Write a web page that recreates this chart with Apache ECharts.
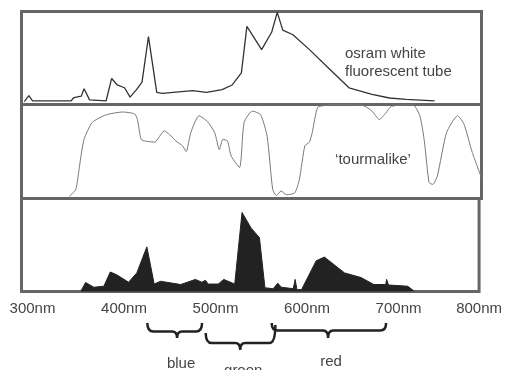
<!DOCTYPE html>
<html>
<head>
<meta charset="utf-8">
<script src="https://cdn.jsdelivr.net/npm/echarts@6/dist/echarts.min.js"></script>
<style>html,body{margin:0;padding:0;background:#fff}#c{width:505px;height:370px}</style>
</head>
<body>
<div id="c"></div>
<script>
// x tick labels
const tickLabels = ['300nm', '400nm', '500nm', '600nm', '700nm', '800nm'];

// Panel 1: osram white fluorescent tube (wavelength nm, relative intensity)
const tubeNm  = [303,308,312,354,357,365,368,374,392,398,404,412,418,425,431,438,447,453,486,501,518,529,539,545,561,572,578,584,595,613,635,656,681,700,718,749];
const tubeVal = [3,9.5,4,4,7.5,9,17,5,4,28,21,18,8,16,24,73,13,12,15,13,16,21,34,84,59,78,99,80,75,59,38,18,11,7,5.5,4];

// Panel 2: 'tourmalike' transmission
const tourNm  = [352,359,363,368,377,392,410,423,426,430,435,445,450,455,461,468,475,479,484,493,502,510,515,519,524,528,537,542,551,560,567,573,577,582,588,597,602,608,613,616,622,631,638,671,681,689,696,702,725,733,738,743,747,752,762,774,781,790,800];
const tourVal = [2.4,9.6,34,63,81,89,92,90,84,63,61,60,66,72,68,61,56,50,70,88,82,70,52,63,61,45,33,81,93,89,66,10,3,8,4,6,20,56,60,70,97,99,100,99,93,84,91,98,100,88,60,17,15,24,70,88,79,49,22];

// Panel 3: combined result (filled)
const filtNm  = [365,370,379,390,397,404,417,426,437,445,452,474,490,497,501,504,515,521,533,541,551,560,566,575,580,584,597,599,601,606,622,631,653,671,685,698,699,701,722,729];
const filtVal = [0.5,9.7,4.6,5.7,21,18,10,20,48,8,11,7.5,13,10,12,8,8,13,8,85,68,58,4,3,9,4.6,3,13,2,2,33,37,20,15,7.5,7.5,13,7,5.7,0.5];

// colour band braces (nm)
const braceNames = ['blue', 'green', 'red'];
const braceStart = [437.5, 501.3, 573.4];
const braceEnd   = [497.3, 577.4, 698.4];
const braceTip   = [470, 539, 635];

const FONT = '"Liberation Sans", Arial, sans-serif';
const zip = (a, b) => a.map((v, i) => [v, b[i]]);

const chart = echarts.init(document.getElementById('c'), null, {renderer: 'canvas'});

const gridBase = {left: 21.5, width: 460, show: true, borderColor: '#666', borderWidth: 3, backgroundColor: 'transparent'};
const grids = [
  Object.assign({top: 11.5, height: 93}, gridBase),
  Object.assign({top: 104.5, height: 94}, gridBase),
  Object.assign({top: 198.5, height: 93}, gridBase)
];

const xAxes = [0, 1, 2].map(i => ({
  type: 'value', gridIndex: i, min: 300, max: 800, interval: 100,
  axisLine: {show: false}, axisTick: {show: false}, splitLine: {show: false},
  axisLabel: i < 2 ? {show: false} : {
    show: true, margin: 10, color: '#444', fontFamily: FONT, fontSize: 15,
    formatter: (v) => {
      const idx = Math.round((v - 300) / 100);
      const t = tickLabels[idx];
      return idx === tickLabels.length - 1 ? '{e|' + t + '}' : '{s|' + t + '}';
    },
    rich: {
      s: {padding: [0, 0, 0, 22], color: '#444', fontFamily: FONT, fontSize: 15},
      e: {padding: [0, 0, 0, 0], color: '#444', fontFamily: FONT, fontSize: 15}
    }
  }
}));
const yAxes = [0, 1, 2].map(i => ({type: 'value', gridIndex: i, min: 0, max: 100, show: false}));

const braceLayout = [
  {yL: 323, yR: 323, yM: 331.5, yT: 338, ty: 371},
  {yL: 333, yR: 325, yM: 343, yT: 350, ty: 378},
  {yL: 323, yR: 323, yM: 330.5, yT: 338, ty: 369}
];

chart.setOption({
  animation: false,
  grid: grids,
  xAxis: xAxes,
  yAxis: yAxes,
  graphic: [
    {type: 'text', left: 345, top: 45, silent: true,
     style: {text: 'osram white\nfluorescent tube', font: '15px ' + FONT, fill: '#444', lineHeight: 18}},
    {type: 'text', x: 373, y: 160, silent: true,
     style: {text: '\u2018tourmalike\u2019', font: '15px ' + FONT, fill: '#444', align: 'center', verticalAlign: 'middle'}}
  ],
  series: [
    {type: 'line', xAxisIndex: 0, yAxisIndex: 0, data: zip(tubeNm, tubeVal), symbol: 'none',
     lineStyle: {color: '#333', width: 1.3}},
    {type: 'line', xAxisIndex: 1, yAxisIndex: 1, data: zip(tourNm, tourVal), symbol: 'none', smooth: 0.2,
     lineStyle: {color: '#777', width: 1}},
    {type: 'line', xAxisIndex: 2, yAxisIndex: 2, data: zip(filtNm, filtVal), symbol: 'none',
     lineStyle: {color: '#222', width: 1}, areaStyle: {color: '#222', opacity: 1}},
    {type: 'custom', xAxisIndex: 2, yAxisIndex: 2, clip: false, silent: true,
     data: braceNames.map((n, i) => [braceStart[i], braceEnd[i], braceTip[i]]),
     renderItem: (params, api) => {
       const i = params.dataIndex;
       const L = braceLayout[i];
       const x1 = api.coord([api.value(0), 0])[0];
       const x2 = api.coord([api.value(1), 0])[0];
       const xt = api.coord([api.value(2), 0])[0];
       const r = 6, t = 5;
       const d = 'M' + x1 + ' ' + L.yL +
         ' Q' + x1 + ' ' + L.yM + ' ' + (x1 + r) + ' ' + L.yM +
         ' L' + (xt - t) + ' ' + L.yM +
         ' Q' + xt + ' ' + L.yM + ' ' + xt + ' ' + L.yT +
         ' Q' + xt + ' ' + L.yM + ' ' + (xt + t) + ' ' + L.yM +
         ' L' + (x2 - r) + ' ' + L.yM +
         ' Q' + x2 + ' ' + L.yM + ' ' + x2 + ' ' + L.yR;
       return {
         type: 'group',
         children: [
           {type: 'path', shape: {pathData: d}, style: {stroke: '#222', lineWidth: 2.5, fill: null}},
           {type: 'text', style: {text: braceNames[i], x: xt + (i === 0 ? 4 : 3), y: L.ty, font: '15px ' + FONT,
             fill: '#444', align: 'center', verticalAlign: 'bottom'}}
         ]
       };
     }}
  ]
});
</script>
</body>
</html>
